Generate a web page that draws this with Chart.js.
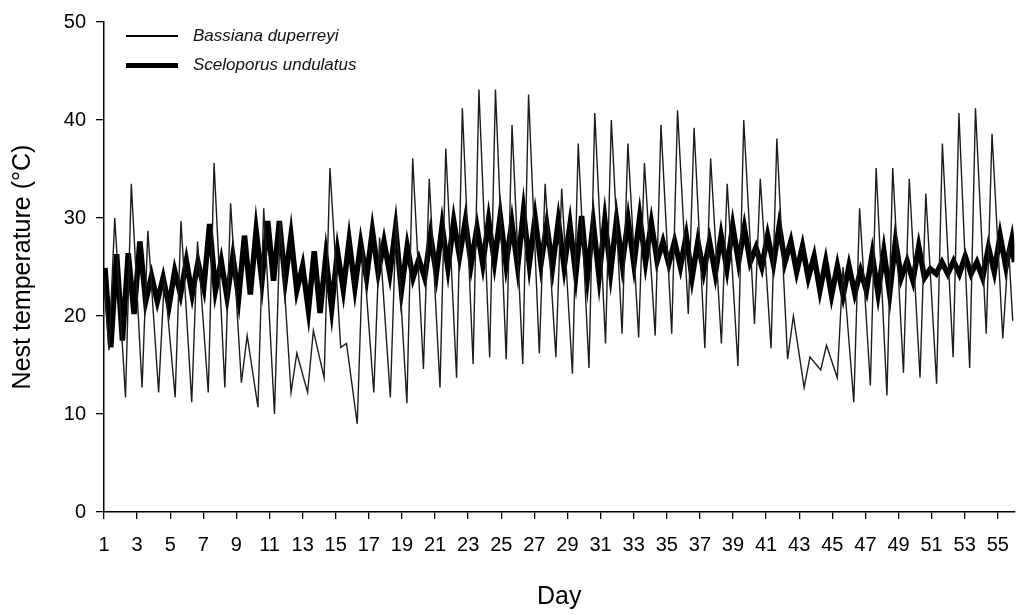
<!DOCTYPE html>
<html>
<head>
<meta charset="utf-8">
<title>Nest temperature</title>
<script src="https://cdn.jsdelivr.net/npm/chart.js@4.4.1/dist/chart.umd.min.js"></script>
<style>
body { margin: 0; background: #fff; }
#wrap { position: relative; width: 1023px; height: 615px; }
.leg { position: absolute; left: 126px; height: 20px; font: italic 17px "Liberation Sans", Arial, sans-serif; color: #111; white-space: nowrap; }
.leg span.ln { position: absolute; left: 0; width: 52px; background: #000; }
.leg span.tx { position: absolute; left: 67px; top: 0px; }
</style>
</head>
<body>
<div id="wrap">
  <canvas id="myChart"></canvas>
  <div class="leg" style="top:26px"><span class="ln" style="top:9px;height:1.5px"></span><span class="tx">Bassiana duperreyi</span></div>
  <div class="leg" style="top:55px"><span class="ln" style="top:8px;height:5px"></span><span class="tx">Sceloporus undulatus</span></div>
</div>
<script>
// Bassiana duperreyi: daily minimum and maximum, days 1..55
var thinTrough = [16.5, 11.7, 12.7, 12.2, 11.7, 11.2, 12.2, 12.7, 13.2, 10.7,
                  10.0, 12.2, 12.2, 13.7, 16.8, 9.0, 12.2, 11.7, 11.1, 14.6,
                  12.7, 13.7, 15.1, 15.8, 15.6, 15.1, 16.2, 15.8, 14.1, 14.7,
                  17.2, 18.2, 17.8, 18.0, 18.2, 20.2, 16.7, 17.2, 14.9, 19.2,
                  16.7, 15.6, 12.7, 14.5, 13.7, 11.2, 12.9, 11.9, 14.2, 13.7,
                  13.1, 15.8, 14.7, 18.2, 17.7];
var thinPeak = [30.0, 33.5, 28.7, 24.0, 29.7, 27.6, 35.6, 31.5, 18.0, 31.0,
                29.7, 16.2, 18.5, 35.1, 17.2, 27.0, 28.0, 30.0, 36.1, 34.0,
                37.1, 41.2, 43.1, 43.1, 39.5, 42.6, 33.5, 33.0, 37.6, 40.7,
                40.0, 37.6, 35.6, 39.5, 41.0, 39.2, 36.1, 33.5, 40.0, 34.0,
                38.1, 20.0, 15.8, 17.0, 25.0, 31.0, 35.1, 35.1, 34.0, 32.5,
                37.6, 40.7, 41.2, 38.6, 27.0];
var thinStart = 24.0;
var thinEnd = 19.5;

// Sceloporus undulatus: successive cycle maxima and minima
var thickPeak = [24.9, 26.3, 26.4, 27.6, 24.1, 23.9, 24.6, 25.6, 25.5, 29.4,
                 25.6, 26.1, 28.2, 28.7, 29.7, 29.7, 28.2, 25.1, 26.6, 26.1,
                 26.6, 27.7, 27.4, 28.7, 27.6, 29.0, 27.1, 25.8, 28.2, 29.2,
                 29.7, 29.7, 29.0, 29.8, 30.2, 29.5, 30.7, 30.0, 29.3, 29.7,
                 29.3, 30.2, 29.5, 29.8, 29.8, 29.8, 30.1, 29.5, 27.6, 27.6,
                 28.2, 27.6, 27.6, 28.2, 29.2, 29.0, 27.0, 28.2, 29.2, 27.6,
                 27.1, 26.1, 25.6, 25.1, 25.1, 24.6, 26.3, 26.6, 27.6, 25.6,
                 27.1, 24.8, 25.5, 25.6, 26.1, 25.5, 27.0, 28.2, 27.8];
var thickTrough = [16.8, 17.5, 20.2, 21.5, 21.5, 21.0, 22.2, 22.2, 22.9, 22.6,
                   21.9, 21.9, 22.2, 23.6, 23.6, 23.6, 22.6, 20.6, 20.3, 20.8,
                   22.7, 22.9, 23.9, 24.4, 24.3, 22.6, 23.9, 23.9, 24.3, 24.9,
                   26.1, 25.3, 25.3, 25.5, 25.3, 25.0, 25.3, 25.3, 25.0, 25.0,
                   24.2, 24.0, 24.0, 24.5, 25.3, 25.3, 25.5, 25.6, 25.3, 25.0,
                   23.9, 24.5, 24.3, 24.8, 25.5, 25.5, 25.0, 25.3, 25.5, 24.5,
                   23.9, 22.6, 22.1, 22.1, 22.3, 22.6, 22.3, 22.3, 23.9, 23.6,
                   23.9, 24.3, 24.3, 24.3, 24.3, 23.9, 24.5, 25.0];
var thickStart = 23.5;
var thickEnd = 25.5;

var xTicks = [1, 3, 5, 7, 9, 11, 13, 15, 17, 19, 21, 23, 25, 27, 29, 31, 33, 35, 37, 39, 41, 43, 45, 47, 49, 51, 53, 55];
var yTicks = [0, 10, 20, 30, 40, 50];

// timing of the cycles along the day axis
var thinTroughOffset = 0.3, thinPeakOffset = 0.65, thinEndDay = 55.9;
var thickFirst = 1.06, thickCycle = 0.7023, thickEndDay = 56;

var thinPts = [{x: 1, y: thinStart}];
for (var i = 0; i < thinPeak.length; i++) {
    thinPts.push({x: i + 1 + thinTroughOffset, y: thinTrough[i]});
    thinPts.push({x: i + 1 + thinPeakOffset, y: thinPeak[i]});
}
thinPts.push({x: thinEndDay, y: thinEnd});

var thickPts = [{x: 1, y: thickStart}];
for (var k = 0; k < thickPeak.length; k++) {
    var t = thickFirst + k * thickCycle;
    thickPts.push({x: t, y: thickPeak[k]});
    if (k < thickTrough.length) thickPts.push({x: t + thickCycle / 2, y: thickTrough[k]});
}
thickPts.push({x: thickEndDay, y: thickEnd});

var fam = '"Liberation Sans", Arial, sans-serif';
var ctx = document.getElementById('myChart').getContext('2d');
var myChart = new Chart(ctx, {
    type: 'line',
    data: {
        datasets: [{
                label: 'Bassiana duperreyi',
                data: thinPts,
                borderColor: '#1c1c1c',
                borderWidth: 1.4,
                pointRadius: 0,
                tension: 0,
                fill: false
            }, {
                label: 'Sceloporus undulatus',
                data: thickPts,
                borderColor: '#000',
                borderWidth: 5.5,
                pointRadius: 0,
                tension: 0,
                fill: false
            }]
    },
    options: {
        responsive: true,
        maintainAspectRatio: false,
        animation: false,
        layout: { padding: { top: 20, right: 3, left: 0, bottom: 0 } },
        plugins: { legend: { display: false }, tooltip: { enabled: false } },
        scales: {
            x: {
                type: 'linear',
                min: 1,
                max: 56,
                afterBuildTicks: function (sc) { sc.ticks = xTicks.map(function (v) { return {value: v}; }); },
                afterFit: function (sc) { sc.height = 103; },
                ticks: { font: { family: fam, size: 20 }, color: '#000', padding: 14, maxRotation: 0, autoSkip: false },
                grid: { drawOnChartArea: false, tickLength: 7, color: '#000', lineWidth: 1.3 },
                border: { color: '#000', width: 1.5 },
                title: { display: true, text: 'Day', font: { family: fam, size: 25 }, color: '#000', padding: { top: 0, bottom: 3 } }
            },
            y: {
                min: 0,
                max: 50,
                afterBuildTicks: function (sc) { sc.ticks = yTicks.map(function (v) { return {value: v}; }); },
                afterFit: function (sc) { sc.width = 104; },
                ticks: { font: { family: fam, size: 20 }, color: '#000', padding: 10 },
                grid: { drawOnChartArea: false, tickLength: 8, color: '#000', lineWidth: 1.3 },
                border: { color: '#000', width: 1.5 },
                title: { display: true, text: 'Nest temperature (°C)', font: { family: fam, size: 25 }, color: '#000', padding: { top: 8, bottom: 0 } }
            }
        }
    }
});
</script>
</body>
</html>
